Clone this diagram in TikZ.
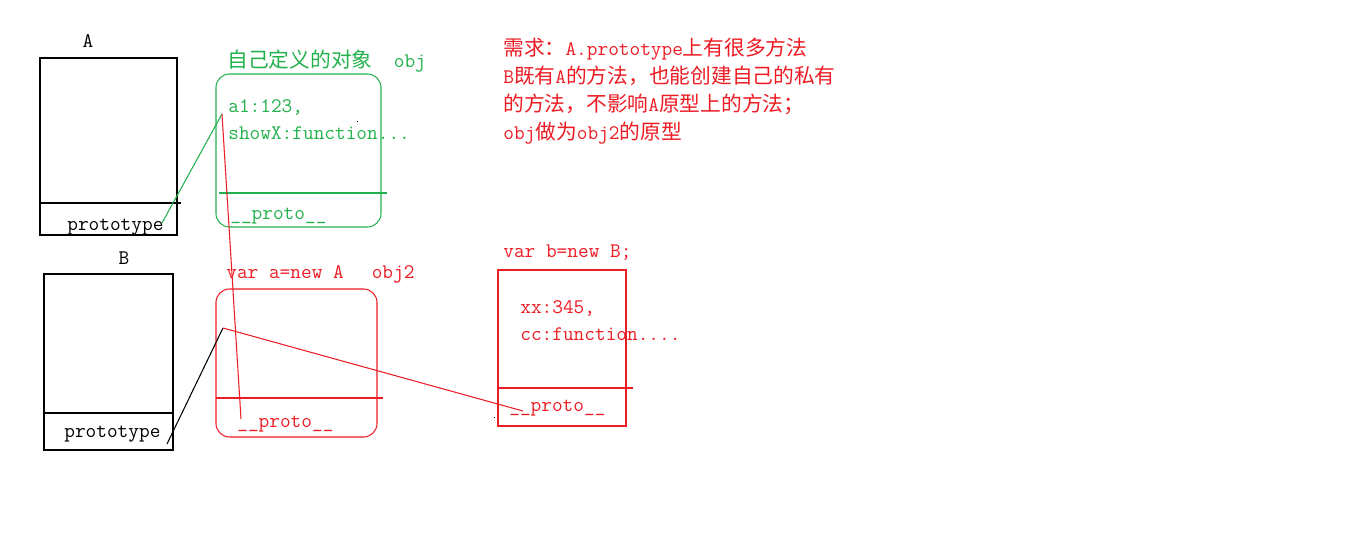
\documentclass[tikz,border=0pt]{standalone}
\usepackage{fontspec}
\newfontfamily\cjk{Noto Sans CJK SC}
\definecolor{paintred}{RGB}{237,28,36}
\definecolor{paintgreen}{RGB}{34,177,76}
\usetikzlibrary{positioning}
\tikzset{
  txt/.style={font=\fontsize{11.8}{14}\selectfont\ttfamily, inner sep=0pt, anchor=base west},
  boxline/.style={line width=0.6pt},
  objbox/.style={boxline, rounded corners=0.27cm},
}
\begin{document}
\begin{tikzpicture}[x=0.02cm, y=-0.02cm]
  \useasboundingbox (0,0) rectangle (1360,540);

  % constructor A
  \node[txt, anchor=base] (labA) at (88,48) {A};
  \draw[boxline] (40,58) rectangle (177,235);
  \draw[boxline] (40,203) -- (181,203);
  \node[txt] (protoA) at (67,231) {prototype};

  % constructor B
  \node[txt, anchor=base] (labB) at (124,265) {B};
  \draw[boxline] (44,274) rectangle (173,450);
  \draw[boxline] (44,413) -- (173,413);
  \node[txt] (protoB) at (64,438) {prototype};

  % obj
  \node[txt, text=paintgreen] (objhead) at (227,68) {{\cjk 自己定义的对象}\ \ obj};
  \draw[objbox, paintgreen] (216,74) rectangle (381,227);
  \draw[boxline, paintgreen] (219,193) -- (387,193);
  \node[txt, text=paintgreen] (obja1) at (228,113) {a1:123,};
  \node[txt, text=paintgreen] (objshow) at (228,140) {showX:function...};
  \node[txt, text=paintgreen] (objproto) at (230,220) {\_\_proto\_\_};
  \fill (356.5,121.5) rectangle (357.5,122.5);

  % obj2
  \node[txt, text=paintred] (obj2head) at (226,279) {var a=new A\hspace{1.35em}obj2};
  \draw[objbox, paintred] (216,289) rectangle (377,437);
  \draw[boxline, paintred] (216,398) -- (383,398);
  \node[txt, text=paintred] (obj2proto) at (237,428) {\_\_proto\_\_};

  % b
  \node[txt, text=paintred] (bhead) at (503,258) {var b=new B;};
  \draw[boxline, paintred] (498,270) rectangle (626,426);
  \draw[boxline, paintred] (498,388) -- (633,388);
  \node[txt, text=paintred] (bxx) at (520,314) {xx:345,};
  \node[txt, text=paintred] (bcc) at (520,341) {cc:function....};
  \node[txt, text=paintred] (bproto) at (509,412) {\_\_proto\_\_};
  \fill (493.5,417.5) rectangle (494.5,418.5);

  % note
  \node[txt, text=paintred] (req1) at (503,56) {{\cjk 需求：}A.prototype{\cjk 上有很多方法}};
  \node[txt, text=paintred] (req2) at (503,84) {B{\cjk 既有}A{\cjk 的方法，也能创建自己的私有}};
  \node[txt, text=paintred] (req3) at (503,112) {{\cjk 的方法，不影响}A{\cjk 原型上的方法；}};
  \node[txt, text=paintred] (req4) at (503,140) {obj{\cjk 做为}obj2{\cjk 的原型}};

  % links
  \coordinate (protoAend) at (162,223);
  \coordinate (a1pt) at (222,114);
  \coordinate (obj2end) at (241,419);
  \coordinate (protoBend) at (167,444);
  \coordinate (obj2pt) at (223,328);
  \coordinate (bend) at (523,411);
  \draw[boxline, paintgreen] (protoAend) -- (a1pt);
  \draw[boxline, paintred] (obj2end) -- (a1pt);
  \draw[boxline] (protoBend) -- (obj2pt);
  \draw[boxline, paintred] (obj2pt) -- (bend);
\end{tikzpicture}
\end{document}
